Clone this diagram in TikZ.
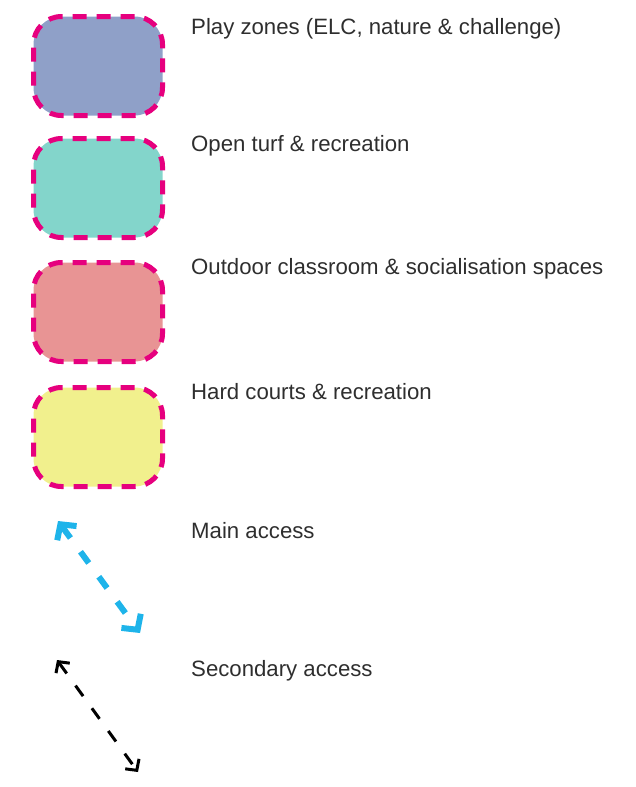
\documentclass[tikz,border=0pt]{standalone}
\usepackage{fontspec}
\setmainfont{Liberation Sans}
\usetikzlibrary{arrows.meta, positioning}
\definecolor{zonePlay}{HTML}{8FA0C8}
\definecolor{zoneTurf}{HTML}{83D5CB}
\definecolor{zoneClass}{HTML}{E89494}
\definecolor{zoneCourt}{HTML}{F1F08D}
\definecolor{edgePink}{HTML}{E6007E}
\definecolor{accessBlue}{HTML}{1EB4EA}
\definecolor{labelGrey}{HTML}{2E2E2E}

\begin{document}
\begin{tikzpicture}[
        x=1pt, y=-1pt,
        zone/.style={rectangle, rounded corners=28pt, draw=edgePink, line width=5pt, dash pattern=on 14pt off 10pt, minimum width=129pt, minimum height=99pt, inner sep=0pt},
        key/.style={anchor=base west, inner sep=0pt, font=\fontsize{22.2}{26}\selectfont, text=labelGrey},
        mainarrow/.style={draw=accessBlue, line width=6pt, dash pattern=on 14pt off 17pt, {Straight Barb[length=11pt, width=24pt]}-{Straight Barb[length=11pt, width=24pt]}},
        secarrow/.style={draw=black, line width=3pt, dash pattern=on 13pt off 15pt, {Straight Barb[length=8pt, width=17pt]}-{Straight Barb[length=8pt, width=17pt]}}
    ]
        \useasboundingbox (0,0) rectangle (636,787);

        % --- Zones ---
        \node[zone, fill=zonePlay]  (play)  at (98, 66)  {};
        \node[zone, fill=zoneTurf]  (turf)  at (98, 188) {};
        \node[zone, fill=zoneClass] (class) at (98, 312) {};
        \node[zone, fill=zoneCourt] (court) at (98, 437) {};

        \node[key] (lplay)  at (191, 34)  {Play zones (ELC, nature \& challenge)};
        \node[key] (lturf)  at (191, 151) {Open turf \& recreation};
        \node[key] (lclass) at (191, 274) {Outdoor classroom \& socialisation spaces};
        \node[key] (lcourt) at (191, 399) {Hard courts \& recreation};

        % --- Access ---
        \coordinate (m1) at (58, 521);
        \coordinate (m2) at (140, 633);
        \coordinate (s1) at (57, 660);
        \coordinate (s2) at (138, 772);
        \draw[mainarrow] (m1) -- (m2);
        \draw[secarrow] (s1) -- (s2);

        \node[key] (lmain) at (191, 538) {Main access};
        \node[key] (lsec)  at (191, 676) {Secondary access};
    \end{tikzpicture}
\end{document}
